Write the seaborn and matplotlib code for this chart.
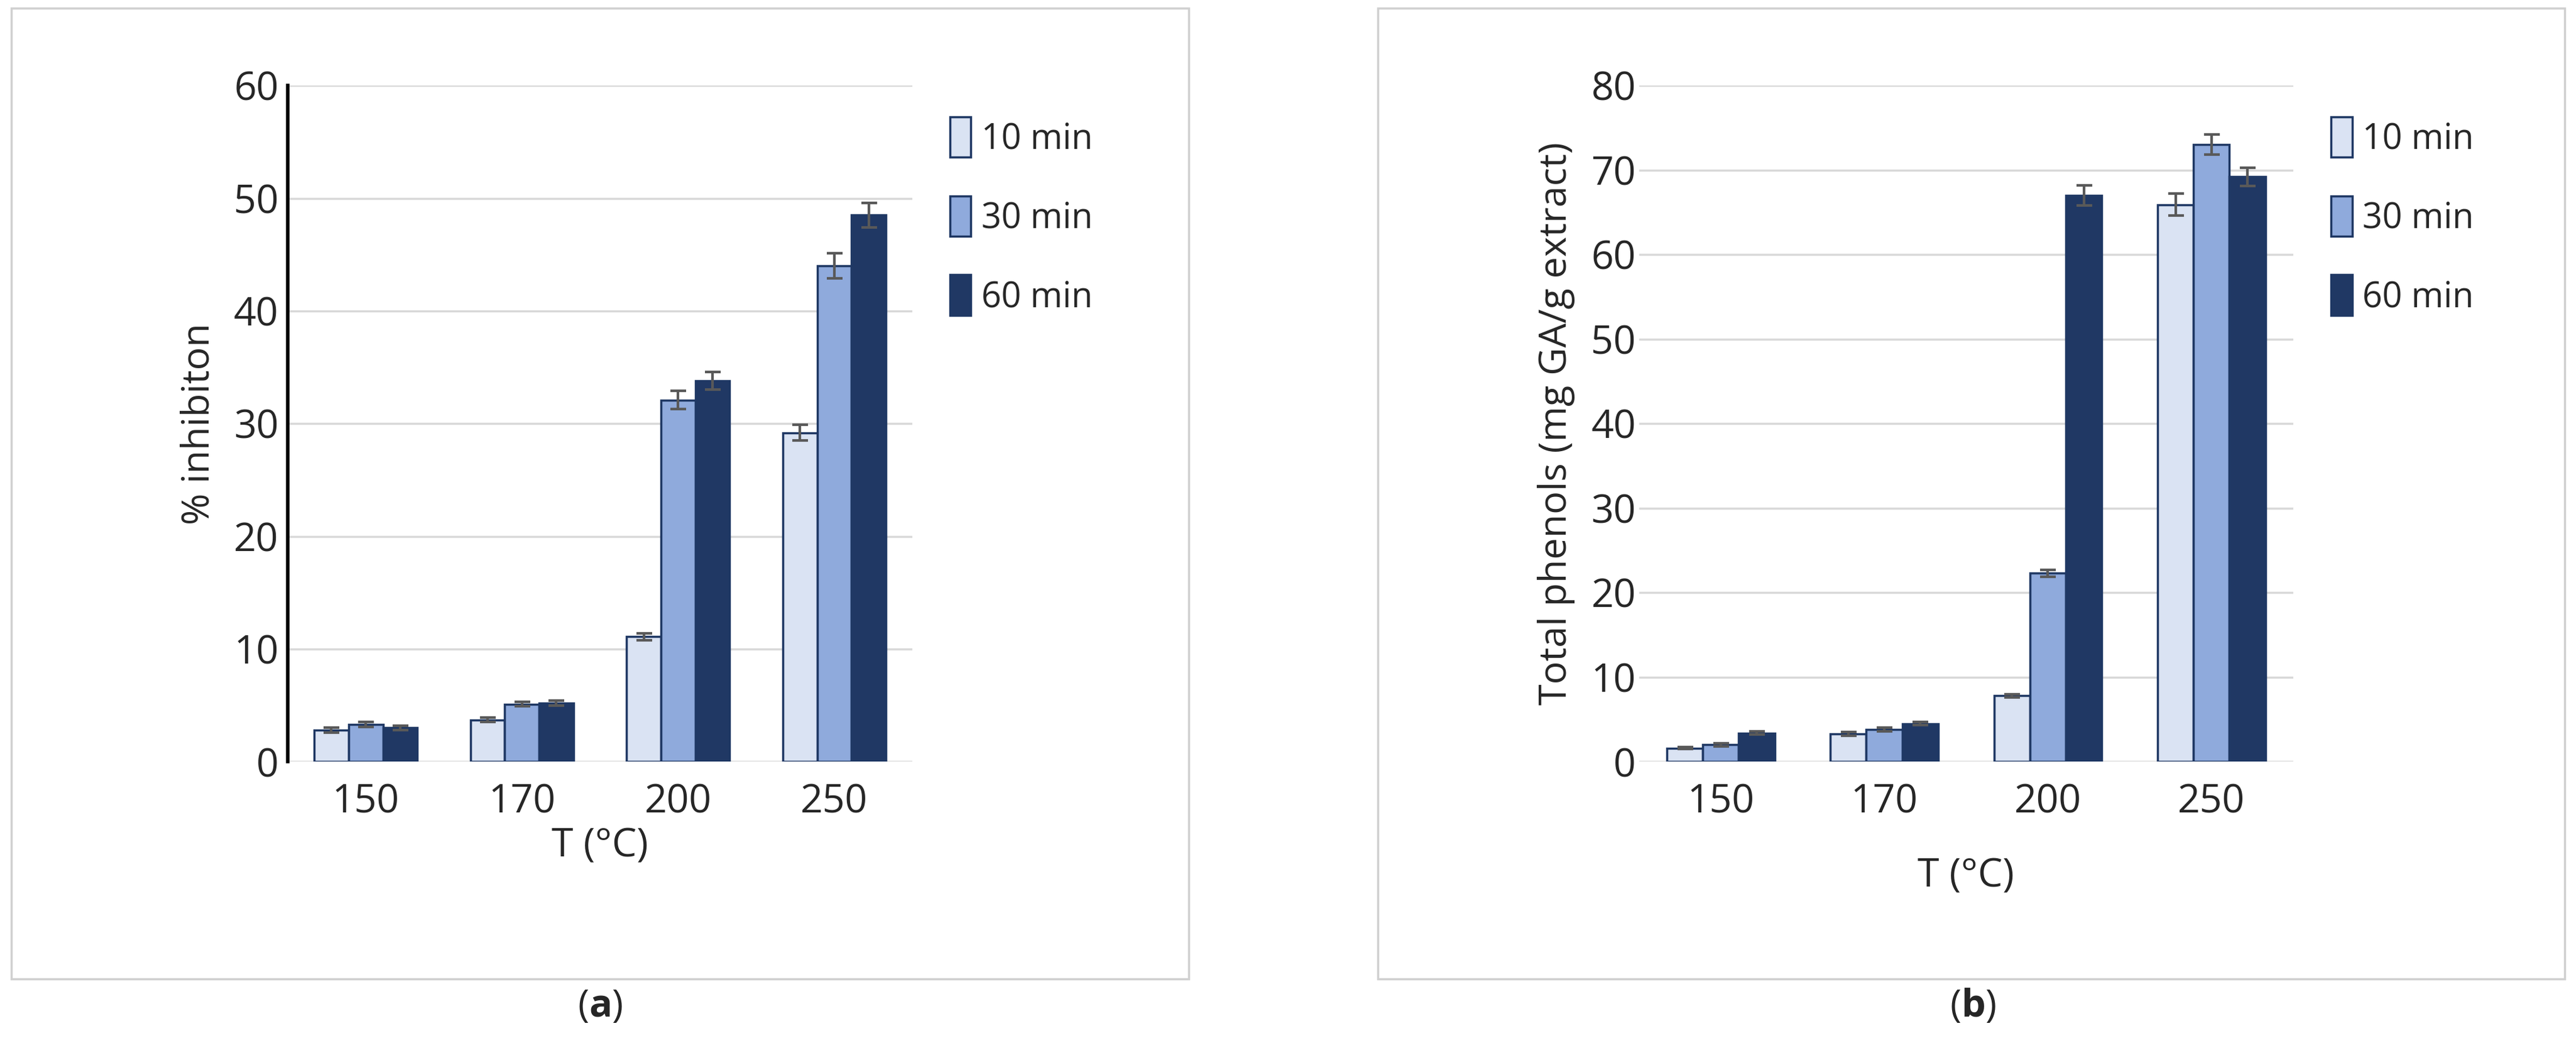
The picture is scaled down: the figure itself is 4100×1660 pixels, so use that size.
import matplotlib
matplotlib.use("Agg")
import matplotlib.pyplot as plt
import seaborn as sns
import pandas as pd
import numpy as np
from matplotlib.patches import Rectangle, Patch

temps = ["150", "170", "200", "250"]
times = ["10 min", "30 min", "60 min"]
inhib = {"10 min": [2.8, 3.7, 11.1, 29.2], "30 min": [3.3, 5.1, 32.1, 44.0], "60 min": [3.0, 5.2, 33.8, 48.5]}
inhib_err = {"10 min": [0.2, 0.2, 0.3, 0.7], "30 min": [0.2, 0.2, 0.8, 1.1], "60 min": [0.2, 0.2, 0.8, 1.1]}
phen = {"10 min": [1.6, 3.3, 7.8, 65.9], "30 min": [2.0, 3.8, 22.3, 73.0], "60 min": [3.4, 4.5, 67.0, 69.2]}
phen_err = {"10 min": [0.1, 0.2, 0.2, 1.3], "30 min": [0.2, 0.2, 0.4, 1.2], "60 min": [0.2, 0.2, 1.2, 1.1]}

sns.set_theme(style="white")
plt.rcParams['font.family'] = ['Open Sans', 'DejaVu Sans']
plt.rcParams['mathtext.fontset'] = 'custom'
plt.rcParams['mathtext.rm'] = 'Open Sans'
plt.rcParams['mathtext.bf'] = 'Open Sans:bold'
palette = {"10 min": "#DAE3F3", "30 min": "#8FAADC", "60 min": "#203864"}

fig = plt.figure(figsize=(41, 16.6), dpi=100)
W, H = 1567, 634
for x0, x1 in [(7, 723), (838, 1560)]:
    fig.patches.append(Rectangle((x0 / W, 1 - 595 / H), (x1 - x0) / W, (595 - 5) / H,
                                 transform=fig.transFigure, fill=False, edgecolor="#D0D0D0", lw=2.5))

def panel(rect, vals, errs, ymax, ylabel, cap, capx, spine, xlpad):
    ax = fig.add_axes(rect)
    rows = []
    for t in times:
        for i, T in enumerate(temps):
            rows.append({"T": T, "time": t, "v": vals[t][i], "e": errs[t][i]})
    df = pd.DataFrame(rows)
    sns.barplot(data=df, x="T", y="v", hue="time", palette=palette, ax=ax, width=0.66, saturation=1,
                edgecolor="#1F3864", linewidth=2.5, errorbar=None, legend=False)
    for p, (_, r) in zip(ax.patches, df.iterrows()):
        ax.errorbar(p.get_x() + p.get_width() / 2, r["v"], yerr=r["e"], fmt="none",
                    ecolor="#595959", elinewidth=3, capsize=9, capthick=3)
    ax.set_ylim(0, ymax)
    ax.set_xlim(-0.5, 3.5)
    ax.set_yticks(np.arange(0, ymax + 1, 10))
    ax.yaxis.grid(True, color="#D9D9D9", lw=2.5)
    ax.set_axisbelow(True)
    for s in ["top", "right", "bottom"]:
        ax.spines[s].set_visible(False)
    if spine:
        ax.spines["left"].set_color("black"); ax.spines["left"].set_linewidth(4)
        ax.tick_params(axis="y", direction="inout", length=14, width=4, color="black")
    else:
        ax.spines["left"].set_visible(False)
        ax.tick_params(axis="y", length=0)
    ax.tick_params(axis="x", length=0, pad=24)
    ax.tick_params(labelsize=45)
    ax.set_xlabel("T (°C)", fontsize=45, labelpad=xlpad)
    ax.set_ylabel(ylabel, fontsize=44, labelpad=18)
    handles = [Patch(facecolor=palette[t], edgecolor="#1F3864", linewidth=2.5, label=t) for t in times]
    ax.legend(handles=handles, loc="upper left", bbox_to_anchor=(1.01, 1.0), frameon=False,
              fontsize=40, labelspacing=1.1, handlelength=0.6, handleheight=1.4, handletextpad=0.3)
    fig.text(capx, 1 - 612 / H, cap, fontsize=44, ha="center", va="center")
    return ax

panel([175 / W, 1 - 463 / H, 380 / W, 411 / H], inhib, inhib_err, 60, "% inhibiton", r"($\mathbf{a}$)", 365 / W, True, 6)
panel([997 / W, 1 - 463 / H, 398 / W, 411 / H], phen, phen_err, 80, "Total phenols (mg GA/g extract)", r"($\mathbf{b}$)", 1200 / W, False, 40)

fig.savefig("out.png", dpi=100)
